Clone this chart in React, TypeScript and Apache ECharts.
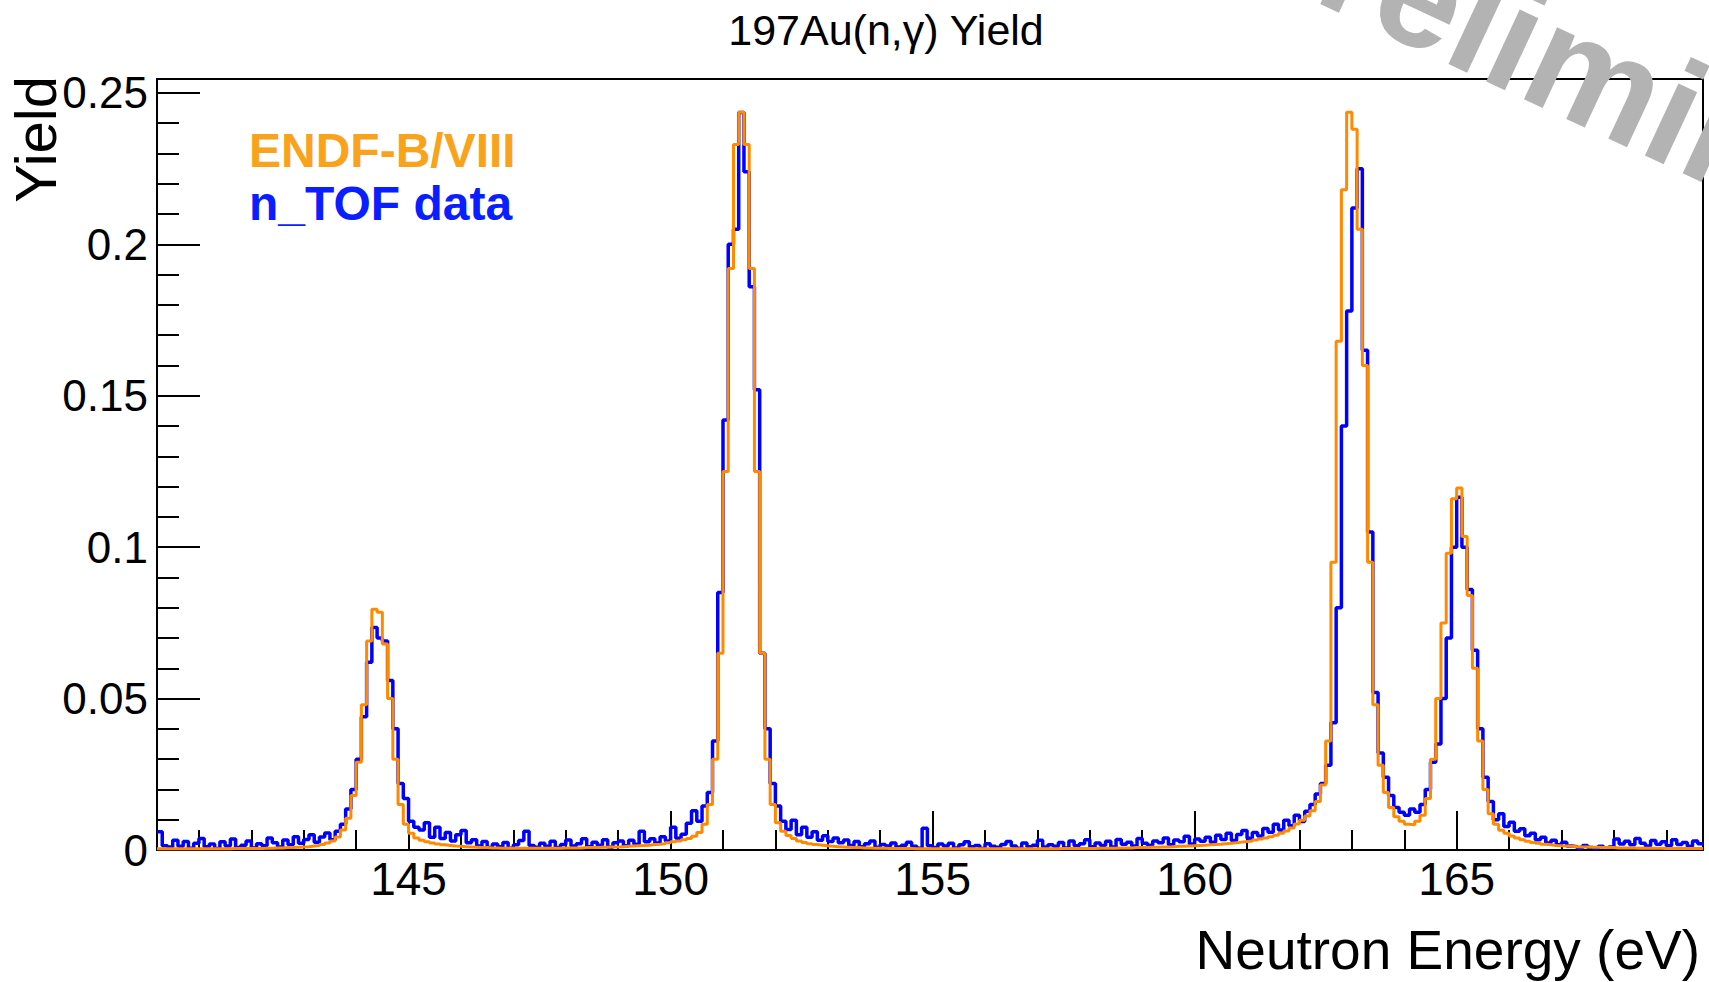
import React, { useEffect, useRef } from "react";
import * as echarts from "echarts";

// ---- Data ----------------------------------------------------------------
// Histogram binning (eV): bins of 0.1 eV starting at 140.2
const binStart = 140.2;
const binWidth = 0.1;
const xRange = [140.2, 169.7];
const yRange = [0, 0.2546];

const xMajorTicks = [145, 150, 155, 160, 165];
const xMinorTicks = [141, 142, 143, 144, 146, 147, 148, 149, 151, 152, 153, 154, 156, 157, 158, 159, 161, 162, 163, 164, 166, 167, 168, 169];
const yMajorTicks = [0, 0.05, 0.1, 0.15, 0.2, 0.25];
const yTickLabels = ["0", "0.05", "0.1", "0.15", "0.2", "0.25"];
const yMinorTicks = [0.01, 0.02, 0.03, 0.04, 0.06, 0.07, 0.08, 0.09, 0.11, 0.12, 0.13, 0.14, 0.16, 0.17, 0.18, 0.19, 0.21, 0.22, 0.23, 0.24];

// n_TOF measured yield per bin
const ntofYield = [
  0.0060, 0.0014, 0.0010, 0.0032, 0.0012, 0.0028, 0.0006, 0.0022, 0.0038, 0.0011,
  0.0020, 0.0005, 0.0027, 0.0013, 0.0036, 0.0008, 0.0016, 0.0030, 0.0007, 0.0021,
  0.0014, 0.0040, 0.0024, 0.0010, 0.0033, 0.0017, 0.0044, 0.0022, 0.0035, 0.0050,
  0.0026, 0.0043, 0.0056, 0.0034, 0.0062, 0.0085, 0.0135, 0.0200, 0.0300, 0.0440,
  0.0620, 0.0735, 0.0700, 0.0690, 0.0560, 0.0400, 0.0220, 0.0170, 0.0095, 0.0075,
  0.0066, 0.0090, 0.0042, 0.0075, 0.0038, 0.0058, 0.0030, 0.0050, 0.0064, 0.0024,
  0.0034, 0.0013, 0.0028, 0.0008, 0.0020, 0.0011, 0.0025, 0.0006, 0.0017, 0.0031,
  0.0062, 0.0015, 0.0009, 0.0022, 0.0012, 0.0029, 0.0008, 0.0018, 0.0033, 0.0013,
  0.0021, 0.0037, 0.0011, 0.0026, 0.0016, 0.0034, 0.0009, 0.0024, 0.0030, 0.0014,
  0.0032, 0.0019, 0.0062, 0.0027, 0.0037, 0.0023, 0.0044, 0.0030, 0.0075, 0.0039,
  0.0052, 0.0088, 0.0130, 0.0095, 0.0145, 0.0190, 0.0360, 0.0850, 0.1420, 0.2000,
  0.2050, 0.2435, 0.2240, 0.1860, 0.1520, 0.0650, 0.0400, 0.0220, 0.0145, 0.0095,
  0.0068, 0.0098, 0.0050, 0.0075, 0.0042, 0.0060, 0.0032, 0.0047, 0.0028, 0.0040,
  0.0024, 0.0033, 0.0015, 0.0028, 0.0011, 0.0021, 0.0030, 0.0009, 0.0018, 0.0013,
  0.0023, 0.0010, 0.0016, 0.0026, 0.0012, 0.0006, 0.0072, 0.0014, 0.0008, 0.0020,
  0.0013, 0.0022, 0.0007, 0.0017, 0.0027, 0.0011, 0.0015, 0.0005, 0.0021, 0.0012,
  0.0009, 0.0018, 0.0028, 0.0013, 0.0006, 0.0023, 0.0011, 0.0016, 0.0032, 0.0010,
  0.0017, 0.0012, 0.0025, 0.0007, 0.0030, 0.0014, 0.0021, 0.0034, 0.0011, 0.0023,
  0.0015, 0.0029, 0.0010, 0.0035, 0.0019, 0.0026, 0.0013, 0.0038, 0.0022, 0.0016,
  0.0030, 0.0024, 0.0040, 0.0017, 0.0033, 0.0027, 0.0045, 0.0020, 0.0036, 0.0029,
  0.0042, 0.0026, 0.0049, 0.0035, 0.0055, 0.0031, 0.0051, 0.0064, 0.0039, 0.0058,
  0.0046, 0.0071, 0.0059, 0.0085, 0.0066, 0.0098, 0.0080, 0.0115, 0.0094, 0.0128,
  0.0150, 0.0185, 0.0220, 0.0280, 0.0420, 0.0800, 0.1400, 0.1780, 0.2120, 0.2250,
  0.1650, 0.1050, 0.0520, 0.0320, 0.0240, 0.0180, 0.0140, 0.0125, 0.0115, 0.0135,
  0.0125, 0.0150, 0.0200, 0.0290, 0.0350, 0.0500, 0.0700, 0.1000, 0.1165, 0.1000,
  0.0860, 0.0660, 0.0400, 0.0240, 0.0160, 0.0100, 0.0120, 0.0078, 0.0092, 0.0062,
  0.0070, 0.0047, 0.0055, 0.0034, 0.0042, 0.0023, 0.0032, 0.0017, 0.0026, 0.0013,
  0.0011, 0.0006, 0.0015, 0.0008, 0.0005, 0.0012, 0.0007, 0.0010, 0.0036, 0.0020,
  0.0029, 0.0017, 0.0038, 0.0022, 0.0013, 0.0031, 0.0019, 0.0027, 0.0014, 0.0034,
  0.0018, 0.0025, 0.0012, 0.0030, 0.0021,
];

// ENDF-B/VIII calculated yield per bin
const endfYield = [
  0.0004, 0.0004, 0.0004, 0.0004, 0.0004, 0.0004, 0.0004, 0.0004, 0.0004, 0.0004,
  0.0004, 0.0004, 0.0004, 0.0004, 0.0005, 0.0005, 0.0005, 0.0005, 0.0005, 0.0005,
  0.0006, 0.0006, 0.0007, 0.0007, 0.0008, 0.0008, 0.0009, 0.0010, 0.0011, 0.0013,
  0.0015, 0.0018, 0.0023, 0.0030, 0.0043, 0.0066, 0.0105, 0.0180, 0.0290, 0.0480,
  0.0690, 0.0795, 0.0785, 0.0680, 0.0500, 0.0300, 0.0150, 0.0085, 0.0055, 0.0040,
  0.0032, 0.0027, 0.0023, 0.0020, 0.0017, 0.0015, 0.0013, 0.0012, 0.0011, 0.0010,
  0.0009, 0.0008, 0.0008, 0.0007, 0.0007, 0.0006, 0.0006, 0.0006, 0.0006, 0.0006,
  0.0006, 0.0006, 0.0006, 0.0006, 0.0006, 0.0006, 0.0006, 0.0007, 0.0007, 0.0007,
  0.0007, 0.0008, 0.0008, 0.0008, 0.0009, 0.0009, 0.0010, 0.0010, 0.0011, 0.0012,
  0.0013, 0.0014, 0.0015, 0.0016, 0.0018, 0.0019, 0.0021, 0.0024, 0.0027, 0.0030,
  0.0034, 0.0038, 0.0045, 0.0058, 0.0085, 0.0150, 0.0300, 0.0650, 0.1250, 0.1920,
  0.2330, 0.2436, 0.2330, 0.1920, 0.1250, 0.0650, 0.0300, 0.0150, 0.0090, 0.0062,
  0.0048, 0.0038, 0.0030, 0.0025, 0.0021, 0.0018, 0.0016, 0.0014, 0.0012, 0.0011,
  0.0010, 0.0009, 0.0008, 0.0008, 0.0007, 0.0007, 0.0006, 0.0006, 0.0006, 0.0005,
  0.0005, 0.0005, 0.0005, 0.0005, 0.0004, 0.0004, 0.0004, 0.0004, 0.0004, 0.0004,
  0.0004, 0.0004, 0.0004, 0.0004, 0.0004, 0.0004, 0.0004, 0.0004, 0.0004, 0.0004,
  0.0004, 0.0004, 0.0004, 0.0004, 0.0004, 0.0004, 0.0004, 0.0004, 0.0004, 0.0004,
  0.0004, 0.0004, 0.0005, 0.0005, 0.0005, 0.0005, 0.0005, 0.0005, 0.0005, 0.0006,
  0.0006, 0.0006, 0.0006, 0.0007, 0.0007, 0.0007, 0.0008, 0.0008, 0.0008, 0.0009,
  0.0009, 0.0010, 0.0010, 0.0011, 0.0012, 0.0012, 0.0013, 0.0014, 0.0015, 0.0016,
  0.0017, 0.0018, 0.0019, 0.0021, 0.0022, 0.0024, 0.0026, 0.0028, 0.0030, 0.0033,
  0.0036, 0.0040, 0.0044, 0.0049, 0.0055, 0.0063, 0.0073, 0.0086, 0.0098, 0.0112,
  0.0130, 0.0160, 0.0215, 0.0360, 0.0950, 0.1680, 0.2180, 0.2436, 0.2380, 0.2050,
  0.1600, 0.0950, 0.0480, 0.0280, 0.0190, 0.0140, 0.0110, 0.0095, 0.0085, 0.0083,
  0.0095, 0.0115, 0.0170, 0.0300, 0.0500, 0.0750, 0.0980, 0.1160, 0.1195, 0.1035,
  0.0840, 0.0600, 0.0360, 0.0200, 0.0120, 0.0085, 0.0065, 0.0055, 0.0046, 0.0040,
  0.0034, 0.0029, 0.0025, 0.0022, 0.0019, 0.0017, 0.0015, 0.0014, 0.0013, 0.0012,
  0.0011, 0.0010, 0.0010, 0.0009, 0.0009, 0.0008, 0.0008, 0.0008, 0.0007, 0.0007,
  0.0007, 0.0007, 0.0006, 0.0006, 0.0006, 0.0006, 0.0006, 0.0005, 0.0005, 0.0005,
  0.0005, 0.0005, 0.0005, 0.0005, 0.0005,
];

const FONT = "'Liberation Sans', Arial, Helvetica, sans-serif";

function toSteps(values: number[]): [number, number][] {
  const pts: [number, number][] = values.map((v, i) => [
    Math.round((binStart + i * binWidth) * 100) / 100,
    v,
  ]);
  const n = values.length;
  pts.push([Math.round((binStart + n * binWidth) * 100) / 100, values[n - 1]]);
  return pts;
}

export default function App() {
  const ref = useRef<HTMLDivElement>(null);

  useEffect(() => {
    if (!ref.current) return;
    const chart = echarts.init(ref.current, null, { renderer: "svg" });

    const tickLine = { color: "#000", width: 2 };

    const option: any = {
      animation: false,
      backgroundColor: "#ffffff",
      title: {
        text: "197Au(n,\u03b3) Yield",
        left: 881,
        top: 3,
        textAlign: "center",
        textStyle: { fontSize: 43, fontWeight: "normal", color: "#000", fontFamily: FONT },
      },
      grid: {
        left: 157,
        right: 6,
        top: 79,
        bottom: 132,
        show: true,
        borderColor: "#000",
        borderWidth: 2,
        backgroundColor: "transparent",
        containLabel: false,
        outerBoundsMode: "none",
      },
      xAxis: [
        {
          type: "value",
          min: xRange[0],
          max: xRange[1],
          position: "bottom",
          axisLine: { show: false },
          splitLine: { show: false },
          axisTick: { show: true, inside: true, length: 39, customValues: xMajorTicks, lineStyle: tickLine },
          axisLabel: {
            show: true,
            customValues: xMajorTicks,
            formatter: (v: number) => String(v),
            fontSize: 46,
            color: "#000",
            fontFamily: FONT,
            margin: 6,
          },
        },
        {
          type: "value",
          min: xRange[0],
          max: xRange[1],
          position: "bottom",
          axisLine: { show: false },
          splitLine: { show: false },
          axisLabel: { show: false },
          axisTick: { show: true, inside: true, length: 20, customValues: xMinorTicks, lineStyle: tickLine },
        },
      ],
      yAxis: [
        {
          type: "value",
          min: yRange[0],
          max: yRange[1],
          position: "left",
          axisLine: { show: false },
          splitLine: { show: false },
          axisTick: { show: true, inside: true, length: 43, customValues: yMajorTicks, lineStyle: tickLine },
          axisLabel: {
            show: true,
            customValues: yMajorTicks,
            formatter: (v: number) => {
              const idx = yMajorTicks.findIndex((t) => Math.abs(t - v) < 1e-9);
              return idx >= 0 ? yTickLabels[idx] : String(v);
            },
            fontSize: 44,
            color: "#000",
            fontFamily: FONT,
            margin: 9,
          },
        },
        {
          type: "value",
          min: yRange[0],
          max: yRange[1],
          position: "left",
          axisLine: { show: false },
          splitLine: { show: false },
          axisLabel: { show: false },
          axisTick: { show: true, inside: true, length: 22, customValues: yMinorTicks, lineStyle: tickLine },
        },
      ],
      series: [
        {
          name: "n_TOF data",
          type: "line",
          xAxisIndex: 0,
          yAxisIndex: 0,
          step: "end",
          symbol: "none",
          showSymbol: false,
          clip: true,
          lineStyle: { color: "#0000ff", width: 3.5 },
          data: toSteps(ntofYield),
          z: 2,
        },
        {
          name: "ENDF-B/VIII",
          type: "line",
          xAxisIndex: 0,
          yAxisIndex: 0,
          step: "end",
          symbol: "none",
          showSymbol: false,
          clip: true,
          lineStyle: { color: "#ff8a00", width: 3 },
          data: toSteps(endfYield),
          z: 3,
        },
      ],
      graphic: [
        {
          type: "text",
          x: 249,
          y: 150,
          style: {
            text: "ENDF-B/VIII",
            fill: "#f9a31c",
            fontSize: 48,
            fontWeight: "bold",
            fontFamily: FONT,
            textAlign: "left",
            textVerticalAlign: "middle",
          },
        },
        {
          type: "text",
          x: 249,
          y: 203,
          style: {
            text: "n_TOF data",
            fill: "#0a1eff",
            fontSize: 48,
            fontWeight: "bold",
            fontFamily: FONT,
            textAlign: "left",
            textVerticalAlign: "middle",
          },
        },
        {
          type: "text",
          x: 1700,
          y: 950,
          style: {
            text: "Neutron Energy (eV)",
            fill: "#000",
            fontSize: 55,
            fontFamily: FONT,
            textAlign: "right",
            textVerticalAlign: "middle",
          },
        },
        {
          type: "text",
          x: 35,
          y: 76,
          rotation: Math.PI / 2,
          style: {
            text: "Yield",
            fill: "#000",
            fontSize: 58,
            fontFamily: FONT,
            textAlign: "right",
            textVerticalAlign: "middle",
          },
        },
        {
          type: "text",
          x: 1242,
          y: -90,
          rotation: (-25 * Math.PI) / 180,
          z: 100,
          style: {
            text: "Preliminary",
            fill: "#b3b3b3",
            fontSize: 150,
            fontWeight: "bold",
            fontFamily: FONT,
            textAlign: "left",
            textVerticalAlign: "middle",
          },
        },
      ],
    };

    chart.setOption(option);
    return () => chart.dispose();
  }, []);

  return (
    <div
      ref={ref}
      style={{ position: "absolute", left: 0, top: 0, width: 1709, height: 982, background: "#fff" }}
    />
  );
}
